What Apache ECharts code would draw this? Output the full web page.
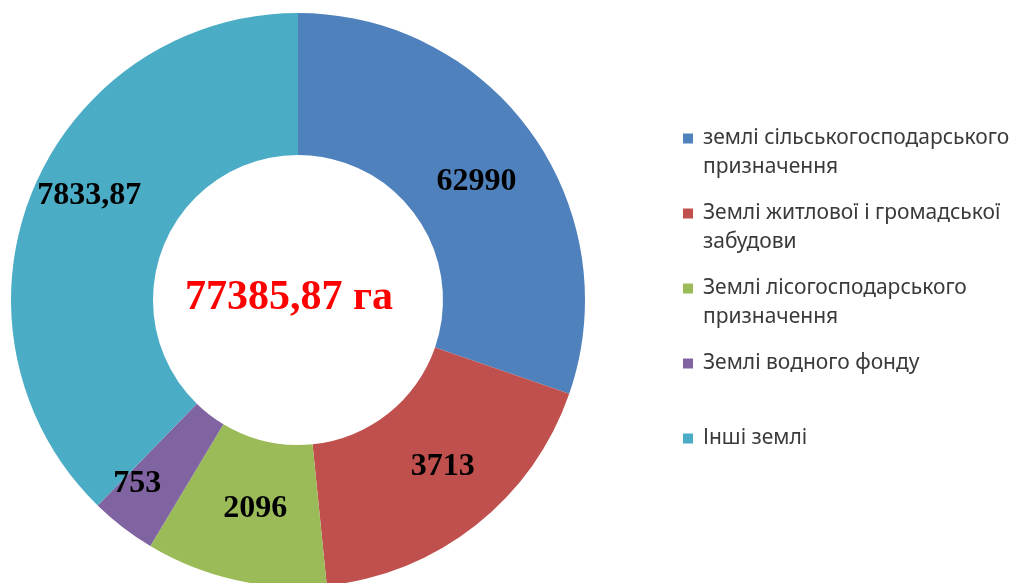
<!DOCTYPE html>
<html>
<head>
<meta charset="utf-8">
<script src="https://cdn.jsdelivr.net/npm/echarts@6/dist/echarts.min.js"></script>
<style>
  html, body { margin: 0; padding: 0; background: #fff; }
  #chart { width: 1023px; height: 583px; }
</style>
</head>
<body>
<div id="chart"></div>
<script>
// категорії (легенда, з переносами як на картинці)
const categories = [
  "землі сільськогосподарського\nпризначення",
  "Землі житлової і громадської\nзабудови",
  "Землі лісогосподарського\nпризначення",
  "Землі водного фонду",
  "Інші землі",
];
// підписи на секторах (як написано на діаграмі)
const labelValues = ["62990", "3713", "2096", "753", "7833,87"];
// частки секторів, %, зчитані з кутів на картинці
const sliceShares = [30.3, 18.1, 10.2, 3.7, 37.7];
const totalText = "77385,87 га";

const colors = ["#4f81bd", "#c0504d", "#9bbb59", "#8064a2", "#4bacc6"];
// зсуви підписів відносно середини сектора
const labelOffsets = [[0, 9], [9, -5], [5, -5], [-27, 10], [-6, -22]];

const chart = echarts.init(document.getElementById("chart"));

const L = 29; // висота рядка легенди

chart.setOption({
  animation: false,
  color: colors,
  legend: {
    orient: "vertical",
    left: 683,
    top: 95,
    padding: 0,
    itemWidth: 20,
    itemHeight: 10,
    itemGap: -12,
    icon: "path://M0,0H10V10H0Z",
    selectedMode: false,
    data: categories,
    // порожній рядок зверху, щоб квадратик стояв навпроти першого рядка
    formatter: (name) =>
      name.indexOf("\n") >= 0 ? "\n" + name : "\n" + name + "\n",
    textStyle: {
      fontFamily: "Noto Sans",
      fontSize: 21,
      lineHeight: L,
      color: "#3a3a3a",
    },
  },
  graphic: [
    {
      type: "text",
      x: 289,
      y: 298,
      style: {
        text: totalText,
        fill: "#ff0000",
        font: "bold 42px 'Liberation Serif'",
        textAlign: "center",
        textVerticalAlign: "middle",
      },
    },
  ],
  series: [
    {
      type: "pie",
      center: [298, 300],
      radius: [145, 287],
      startAngle: 90,
      clockwise: true,
      avoidLabelOverlap: false,
      silent: true,
      label: {
        show: true,
        position: "inside",
        color: "#000",
        fontFamily: "Liberation Serif",
        fontWeight: "bold",
        fontSize: 32,
        formatter: (p) => labelValues[p.dataIndex],
      },
      labelLine: { show: false },
      data: categories.map((name, i) => ({
        name: name,
        value: sliceShares[i],
        label: { offset: labelOffsets[i] },
      })),
    },
  ],
});
</script>
</body>
</html>
